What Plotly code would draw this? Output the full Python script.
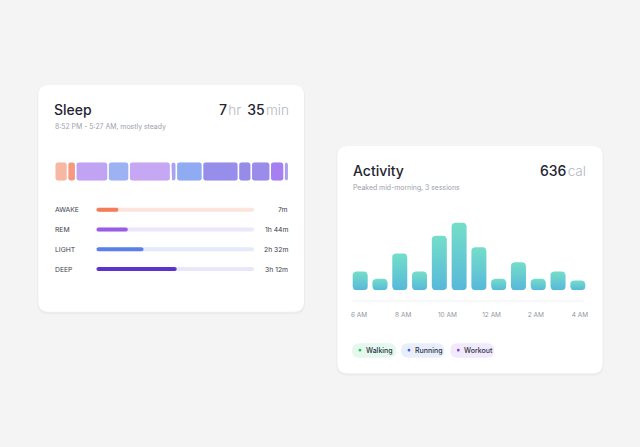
import math
import plotly.graph_objects as go

W, H = 640, 447

# ---------------- data ----------------
sleep_title = "Sleep"
sleep_hours, sleep_mins = 7, 35
sleep_subtitle = "8:52 PM - 5:27 AM, mostly steady"

seg_minutes = [25, 16, 63, 41, 81, 11, 51, 70, 25, 37, 27, 9]
seg_stages = ["AWAKE", "AWAKE", "REM", "LIGHT", "REM", "LIGHT", "LIGHT",
              "DEEP", "DEEP", "DEEP", "REM", "DEEP"]
seg_colors = ["#f6b8a3", "#f59a7e", "#c1a3f4", "#9db2f2", "#c6a7f3", "#a9a3ef",
              "#8fabf1", "#978dea", "#978be8", "#9a8de9", "#a67ff0", "#a99eef"]

stage_names = ["AWAKE", "REM", "LIGHT", "DEEP"]
stage_minutes = [7, 104, 152, 192]
stage_fill = [0.14, 0.20, 0.30, 0.51]
stage_color = ["#f47c58", "#9a5ce6", "#5b80ea", "#5a34cb"]
stage_track = ["#fde4dd", "#ece6fc", "#e4e9fb", "#e9e5fa"]

act_title = "Activity"
act_total = 636
act_subtitle = "Peaked mid-morning, 3 sessions"
act_cal = [36, 22, 71, 36, 105, 130, 83, 22, 54, 22, 36, 19]
act_ticks = ["6 AM", "8 AM", "10 AM", "12 AM", "2 AM", "4 AM"]
legend_names = ["Walking", "Running", "Workout"]
legend_dot = ["#22c463", "#3d5fe0", "#8a3fdc"]
legend_bg = ["#e4f8ee", "#e9eefc", "#f1e9fc"]

FONT = "Inter, Roboto, sans-serif"
DARK = "#1f2531"
MUTED = "#b4b9c1"
SUB = "#9ba1ab"
LABEL = "#3a404c"
PAGE = "#f4f4f5"


def xd(a, b):
    return [a / W, b / W]


def yd(top, bottom):
    return [1 - bottom / H, 1 - top / H]


def rrect(x0, x1, y0, y1, rx, ry, n=6):
    rx = min(rx, abs(x1 - x0) / 2)
    ry = min(ry, abs(y1 - y0) / 2)
    xs, ys = [], []
    corners = [(x1 - rx, y1 - ry, 0), (x0 + rx, y1 - ry, 90),
               (x0 + rx, y0 + ry, 180), (x1 - rx, y0 + ry, 270)]
    for cx, cy, a0 in corners:
        for k in range(n + 1):
            a = math.radians(a0 + 90 * k / n)
            xs.append(cx + rx * math.cos(a))
            ys.append(cy + ry * math.sin(a))
    xs.append(xs[0])
    ys.append(ys[0])
    return xs, ys


def rpath(x0, y0, x1, y1, r):
    return (f"M{x0+r},{y0} H{x1-r} Q{x1},{y0} {x1},{y0+r} V{y1-r} "
            f"Q{x1},{y1} {x1-r},{y1} H{x0+r} Q{x0},{y1} {x0},{y1-r} "
            f"V{y0+r} Q{x0},{y0} {x0+r},{y0} Z")


fig = go.Figure()

# full-canvas helper axes (x / y) - first subplot so its shapes sit underneath
fig.add_trace(go.Scatter(x=[], y=[], xaxis="x", yaxis="y"))

# ---------------- hypnogram (x2 / y2) ----------------
hyp_px = (54.7, 288.7, 162.3, 180.7)
total = sum(seg_minutes)
ux = total / (hyp_px[1] - hyp_px[0])
uy = 1.0 / (hyp_px[3] - hyp_px[2])
cum = 0
for d, c in zip(seg_minutes, seg_colors):
    gx = 0.8 * ux
    xs, ys = rrect(cum + gx, cum + d - gx, -0.5, 0.5, 2.5 * ux, 2.5 * uy)
    fig.add_trace(go.Scatter(x=xs, y=ys, mode="lines", fill="toself",
                             fillcolor=c, line=dict(width=0), xaxis="x2", yaxis="y2",
                             hoverinfo="skip"))
    cum += d

# ---------------- stage rows (x3 / y3) ----------------
st_px = (96.3, 254.0, 199.8, 279.0)
ux2 = 1.0 / (st_px[1] - st_px[0])
row_px = (st_px[3] - st_px[2]) / len(stage_names)
for i, (f, c, t) in enumerate(zip(stage_fill, stage_color, stage_track)):
    for x1v, col in ((1.0, t), (f, c)):
        xs, ys = rrect(0, x1v, i - 2.0 / row_px, i + 2.0 / row_px, 2 * ux2, 2 / row_px)
        fig.add_trace(go.Scatter(x=xs, y=ys, mode="lines", fill="toself",
                                 fillcolor=col, line=dict(width=0),
                                 xaxis="x3", yaxis="y3", hoverinfo="skip"))

# ---------------- activity bars (x4 / y4) ----------------
ac_px = (350.3, 587.7, 214.9, 290.3)
ymax = 145
px_x = (ac_px[1] - ac_px[0]) / len(act_cal)
px_y = (ac_px[3] - ac_px[2]) / ymax
bw = 15.0 / px_x
for i, v in enumerate(act_cal):
    xs, ys = rrect(i - bw / 2, i + bw / 2, 0, v, 3.5 / px_x, 3.5 / px_y)
    fig.add_trace(go.Scatter(
        x=xs, y=ys, mode="lines", fill="toself", line=dict(width=0),
        fillcolor="#63cad2",
        fillgradient=dict(type="vertical",
                          colorscale=[[0, "#57b8d9"], [1, "#74dec9"]]),
        xaxis="x4", yaxis="y4", hoverinfo="skip"))

# tick labels (x5 / y5)
fig.add_trace(go.Scatter(x=list(range(len(act_ticks))), y=[0] * len(act_ticks),
                         mode="text", text=act_ticks, cliponaxis=False,
                         textfont=dict(family=FONT, size=6.5, color="#9197a0"),
                         xaxis="x5", yaxis="y5", hoverinfo="skip"))

# ---------------- cards & decorations ----------------
shapes = []
cards = [(38.3, 85.0, 304.0, 311.7), (337.3, 146.0, 602.7, 373.3)]
for x0, y0, x1, y1 in cards:
    shapes.append(dict(type="path", path=rpath(x0 - 1, y0, x1 + 1, y1 + 2.5, 11),
                       xref="x", yref="y", fillcolor="rgba(30,40,60,0.035)",
                       line=dict(width=0), layer="below"))
    shapes.append(dict(type="path", path=rpath(x0, y0, x1, y1, 10),
                       xref="x", yref="y", fillcolor="#ffffff",
                       line=dict(width=0), layer="below"))
# baseline under activity bars
shapes.append(dict(type="line", x0=352.7, x1=584.3, y0=301, y1=301, xref="x",
                   yref="y", line=dict(color="#eef0f3", width=1), layer="below"))

annotations = []


def txt(x, y, s, size, color, anchor="left", weight=400, yref="y"):
    annotations.append(dict(x=x, y=y, xref="x", yref=yref, text=s, showarrow=False,
                            xanchor=anchor, yanchor="middle", borderpad=0,
                            font=dict(family=FONT, size=size, color=color,
                                      weight=weight)))


def unit(s):
    return f"<span style='color:{MUTED};font-weight:300;font-size:13.6px'>{s}</span>"


# sleep header
txt(53.3, 109.5, sleep_title, 14, DARK, weight=500)
txt(289.8, 109.5,
    f"{sleep_hours}&#8202;{unit('hr')}&#8201; {sleep_mins}&#8202;{unit('min')}",
    14, DARK, anchor="right", weight=500)
txt(53.8, 126.7, sleep_subtitle, 6.9, SUB)


def fmt(m):
    h, mm = divmod(m, 60)
    return f"{h}h {mm}m" if h else f"{mm}m"


for i, (n, m) in enumerate(zip(stage_names, stage_minutes)):
    txt(54.0, i, n, 6.8, LABEL, yref="y3")
    txt(289.3, i, fmt(m), 6.8, LABEL, anchor="right", yref="y3")

# activity header
txt(351.6, 170, act_title, 14, DARK, weight=500)
txt(587.3, 170, f"{act_total}&#8202;{unit('cal')}", 14, DARK, anchor="right",
    weight=500)
txt(352.0, 187.3, act_subtitle, 6.9, SUB)

# legend pills
pill_x = [352.0, 401.0, 450.3]
pill_w = [44.0, 43.3, 44.0]
for px, pw, name, dc, bg in zip(pill_x, pill_w, legend_names, legend_dot, legend_bg):
    shapes.append(dict(type="path", path=rpath(px, 343.3, px + pw, 357.7, 7.2),
                       xref="x", yref="y", fillcolor=bg, line=dict(width=0),
                       layer="below"))
    shapes.append(dict(type="circle", x0=px + 6.6, x1=px + 9.4, y0=348.8, y1=351.6,
                       xref="x", yref="y", fillcolor=dc, line=dict(width=0),
                       layer="below"))
    txt(px + 12.6, 350.3, name, 7.0, "#2c323e", weight=500)

hid = dict(visible=False, fixedrange=True, showgrid=False, zeroline=False)
fig.update_layout(
    width=W, height=H, margin=dict(l=0, r=0, t=0, b=0),
    paper_bgcolor=PAGE, plot_bgcolor="rgba(0,0,0,0)",
    showlegend=False, hovermode=False,
    xaxis=dict(domain=[0, 1], range=[0, W], anchor="y", **hid),
    yaxis=dict(domain=[0, 1], range=[H, 0], anchor="x", **hid),
    xaxis2=dict(domain=xd(hyp_px[0], hyp_px[1]), range=[0, total], anchor="y2", **hid),
    yaxis2=dict(domain=yd(hyp_px[2], hyp_px[3]), range=[-0.5, 0.5], anchor="x2", **hid),
    xaxis3=dict(domain=xd(st_px[0], st_px[1]), range=[0, 1], anchor="y3", **hid),
    yaxis3=dict(domain=yd(st_px[2], st_px[3]), range=[3.5, -0.5], anchor="x3", **hid),
    xaxis4=dict(domain=xd(ac_px[0], ac_px[1]), range=[-0.5, len(act_cal) - 0.5],
                anchor="y4", **hid),
    yaxis4=dict(domain=yd(ac_px[2], ac_px[3]), range=[0, ymax], anchor="x4", **hid),
    xaxis5=dict(domain=xd(352.7, 587.0), range=[-0.1425, 5.158], anchor="y5", **hid),
    yaxis5=dict(domain=yd(310.0, 321.4), range=[-1, 1], anchor="x5", **hid),
    shapes=shapes, annotations=annotations,
)

fig.write_html("out.html", config={"displayModeBar": False},
               post_script=f"document.body.style.margin='0';"
                           f"document.body.style.background='{PAGE}';"
                           f"document.body.style.overflow='hidden';")
